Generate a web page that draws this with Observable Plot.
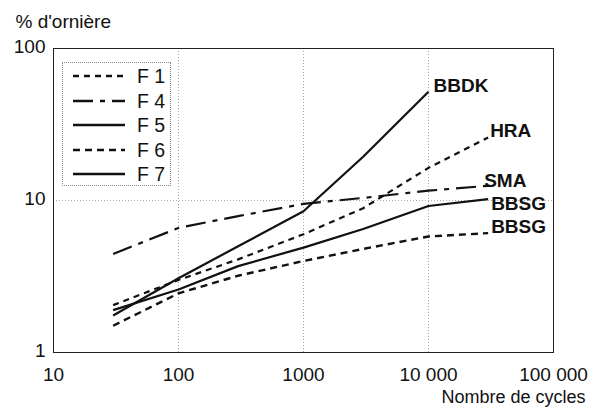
<!DOCTYPE html>
<html><head><meta charset="utf-8">
<script src="https://cdn.jsdelivr.net/npm/d3@7"></script>
<script src="https://cdn.jsdelivr.net/npm/@observablehq/plot@0.6"></script>
<style>
body{margin:0;background:#fff;font-family:"Liberation Sans",Arial,sans-serif;}
#wrap{position:relative;width:601px;height:410px;}
#legend{position:absolute;left:62px;top:62px;width:107px;height:122px;border:1px dotted #888;background:#fff;}
.row{position:absolute;left:0;height:24px;display:flex;align-items:center;}
.row svg{margin-left:10px;display:block;}
.row span{margin-left:12px;font-size:19.5px;color:#111;line-height:24px;}
</style></head><body><div id="wrap"></div>
<script>
// ---- data ----
const cycles = [30, 100, 300, 1000, 3000, 10000, 30000];
const seriesKeys = ["F 1", "F 4", "F 5", "F 6", "F 7"];
const seriesLabels = ["HRA", "SMA", "BBSG", "BBSG", "BBDK"];
const f1 = [2.05, 3.0, 4.1, 6.0, 8.9, 16.4, 26];
const f4 = [4.45, 6.6, 7.9, 9.5, 10.4, 11.6, 12.5];
const f5 = [1.9, 2.6, 3.7, 4.9, 6.5, 9.2, 10.2];
const f6 = [1.5, 2.45, 3.2, 4.0, 4.8, 5.8, 6.1];
const f7 = [1.75, 3.08, 5.0, 8.5, 19.4, 52];
const xTicks = [10, 100, 1000, 10000, 100000];
const xTickLabels = ["10", "100", "1000", "10 000", "100 000"];
const yTicks = [1, 10, 100];
const yTickLabels = ["1", "10", "100"];
const xTitle = "Nombre de cycles";
const yTitle = "% d'ornière";

// ---- styles ----
const seriesValues = [f1, f4, f5, f6, f7];
const styles = {
  "F 1": {dash: "6,5", width: 2.2, dx: 2, dy: -7},
  "F 4": {dash: "20,7,5,7", width: 2.2, dx: -4, dy: -5},
  "F 5": {dash: null, width: 2.2, dx: 3, dy: 5},
  "F 6": {dash: "7,5", width: 2.4, dx: 3, dy: -6},
  "F 7": {dash: null, width: 2.2, dx: 5, dy: -6}
};

const rows = [];
seriesKeys.forEach((k, i) => {
  seriesValues[i].forEach((v, j) => rows.push({series: k, label: seriesLabels[i], cycles: cycles[j], value: v}));
});

const marks = [
  Plot.ruleX(xTicks.slice(1, -1), {stroke: "#aaa", strokeDasharray: "1,2", strokeWidth: 1}),
  Plot.ruleY(yTicks.slice(1, -1), {stroke: "#aaa", strokeDasharray: "1,2", strokeWidth: 1}),
  Plot.frame({stroke: "#222", strokeWidth: 1}),
  Plot.axisX({ticks: xTicks, tickFormat: d => xTickLabels[xTicks.indexOf(d)], tickSize: 0, tickPadding: 15, label: null, fontSize: 19}),
  Plot.axisY({ticks: yTicks, tickFormat: d => yTickLabels[yTicks.indexOf(d)], tickSize: 0, tickPadding: 8, label: null, fontSize: 19, dy: -2}),
  Plot.text([xTitle], {frameAnchor: "bottom-right", text: d => d, textAnchor: "end", dx: 32, dy: 50, fontSize: 18, fill: "#111"}),
  Plot.text([yTitle], {frameAnchor: "top-left", text: d => d, textAnchor: "start", dx: -38, dy: -34, fontSize: 19, fill: "#111"})
];
seriesKeys.forEach(k => {
  const s = styles[k];
  const data = rows.filter(r => r.series === k);
  marks.push(Plot.line(data, {x: "cycles", y: "value", stroke: "#111", strokeWidth: s.width, strokeDasharray: s.dash, strokeLinecap: "butt"}));
  marks.push(Plot.text(data.slice(-1), {x: "cycles", y: "value", text: "label", textAnchor: "start", dx: s.dx, dy: s.dy, fontWeight: "bold", fontSize: 19, fill: "#111"}));
});

const chart = Plot.plot({
  width: 601, height: 410,
  marginLeft: 53, marginRight: 48, marginTop: 48, marginBottom: 58,
  style: {fontFamily: '"Liberation Sans", Arial, sans-serif', fontSize: "19px", color: "#111", background: "#fff"},
  x: {type: "log", domain: [10, 100000]},
  y: {type: "log", domain: [1, 100]},
  marks
});
const wrap = document.getElementById("wrap");
wrap.appendChild(chart);

// legend (HTML overlay)
const legend = document.createElement("div");
legend.id = "legend";
seriesKeys.forEach((k, i) => {
  const s = styles[k];
  const row = document.createElement("div");
  row.className = "row";
  row.style.top = (1 + i * 24.5) + "px";
  row.innerHTML = `<svg width="52" height="8"><line x1="0" y1="4" x2="52" y2="4" stroke="#111" stroke-width="${s.width + 0.3}" ${s.dash ? `stroke-dasharray="${s.dash}"` : ""}/></svg><span>${k}</span>`;
  legend.appendChild(row);
});
wrap.appendChild(legend);
</script>
</body></html>
